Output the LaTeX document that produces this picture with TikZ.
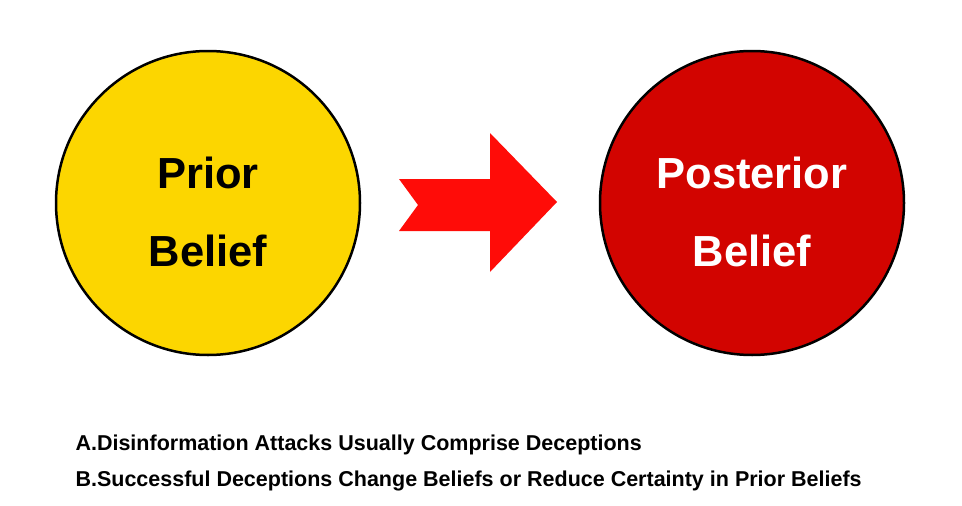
\documentclass[tikz,border=0pt]{standalone}
\usepackage{fontspec}
\setmainfont{Liberation Sans}
\begin{document}
\begin{tikzpicture}[x=1pt,y=-1pt,
  circ/.style={circle,draw=black,line width=2.5pt,minimum size=304pt,inner sep=0pt},
  big/.style={font=\fontsize{43.5}{78}\selectfont\bfseries,align=center},
  note/.style={font=\fontsize{21.5}{26}\selectfont\bfseries,anchor=west}]
\useasboundingbox (0,0) rectangle (962,506);
\node[circ,fill={rgb,255:red,252;green,214;blue,0}] (prior) at (208,203) {};
\node[circ,fill={rgb,255:red,210;green,4;blue,0}] (post) at (752,203) {};
\node[big] (pt) at (208,212) {Prior\\Belief};
\node[big,text=white] (qt) at (752,212) {Posterior\\Belief};
\fill[fill={rgb,255:red,255;green,12;blue,8}] (399,179) -- (490,179) -- (490,133) -- (557,202) -- (490,272) -- (490,231) -- (399,231) -- (418,205) -- cycle;
\node[note] (a) at (72,445) {A.Disinformation Attacks Usually Comprise Deceptions};
\node[note] (b) at (72,481) {B.Successful Deceptions Change Beliefs or Reduce Certainty in Prior Beliefs};
\end{tikzpicture}
\end{document}
